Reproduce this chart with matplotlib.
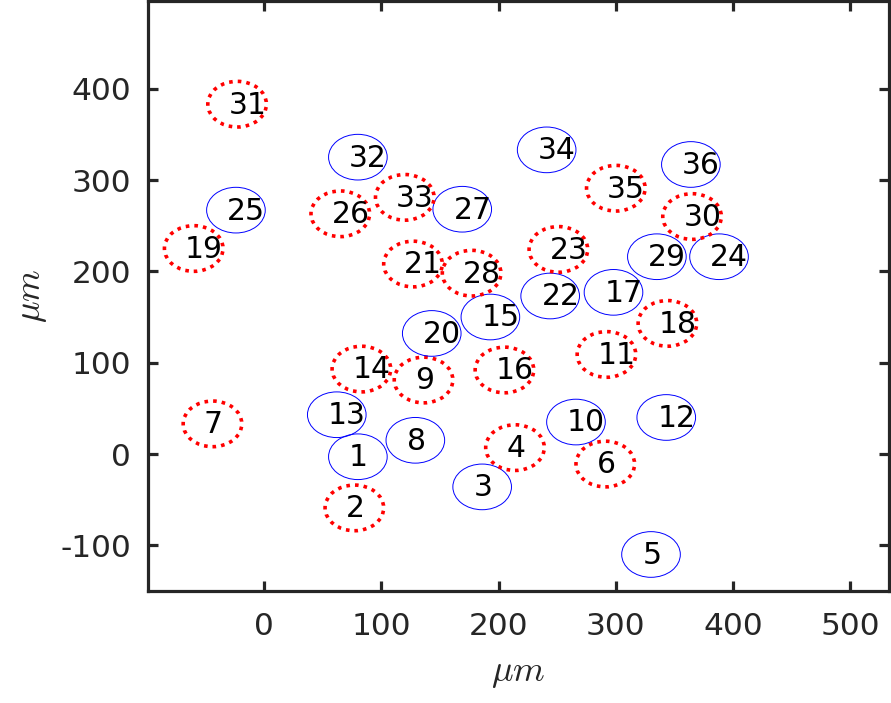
import numpy as np
import matplotlib
matplotlib.use('Agg')
import matplotlib.pyplot as plt
from matplotlib.patches import Ellipse

plt.rcParams['font.family'] = 'DejaVu Sans'
plt.rcParams['mathtext.fontset'] = 'cm'
plt.rcParams['axes.unicode_minus'] = False

# cell centres (um), numbered 1..36
cell_id = np.arange(1, 37)
cell_x = [80, 77, 186, 214, 330, 291, -44, 129, 136, 266, 292, 343,
          62, 83, 193, 205, 298, 344, -60, 143, 127, 244, 251, 388,
          -24, 65, 169, 177, 335, 365, -23, 80, 120, 241, 300, 364]
cell_y = [-3, -59, -36, 7, -110, -11, 33, 15, 81, 35, 109, 40,
          43, 93, 150, 92, 177, 143, 225, 132, 208, 173, 224, 216,
          267, 263, 268, 198, 216, 260, 383, 325, 281, 333, 291, 317]
# 1 = solid blue, 0 = dotted red
cell_type = [1, 0, 1, 0, 1, 0, 0, 1, 0, 1, 0, 1,
             1, 0, 1, 0, 1, 0, 0, 1, 0, 1, 0, 1,
             1, 0, 1, 0, 1, 0, 0, 1, 0, 1, 0, 1]
radius = 25

fig = plt.figure(figsize=(8.91, 7.03), dpi=100)
ax = fig.add_axes([0.1661, 0.1593, 0.8317, 0.8393])

for i in range(len(cell_id)):
    if cell_type[i] == 1:
        e = Ellipse((cell_x[i], cell_y[i]), 2 * radius, 2 * radius, fill=False,
                    edgecolor='blue', linewidth=0.7)
    else:
        e = Ellipse((cell_x[i], cell_y[i]), 2 * radius, 2 * radius, fill=False,
                    edgecolor='red', linewidth=2.6, linestyle=(0, (1, 1.4)))
        e.set_capstyle('butt')
    ax.add_patch(e)
    ax.text(cell_x[i] - 7.5, cell_y[i] - 1, str(cell_id[i]), fontsize=21.5,
            ha='left', va='center', color='black')

ax.set_xlim(-99, 533)
ax.set_ylim(-150, 496)
ax.set_xticks([0, 100, 200, 300, 400, 500])
ax.set_yticks([-100, 0, 100, 200, 300, 400])

dark = '#262626'
for s in ax.spines.values():
    s.set_linewidth(2.3)
    s.set_color(dark)
ax.tick_params(direction='in', length=7, width=2.3, colors=dark,
               labelsize=22.5, top=True, right=True)
ax.tick_params(axis='x', pad=15)
ax.tick_params(axis='y', pad=12)
ax.set_xlabel(r'$\mu m$', fontsize=26, color=dark, labelpad=11)
ax.set_ylabel(r'$\mu m$', fontsize=26, color=dark, labelpad=8)

fig.savefig('out.png', dpi=100)
